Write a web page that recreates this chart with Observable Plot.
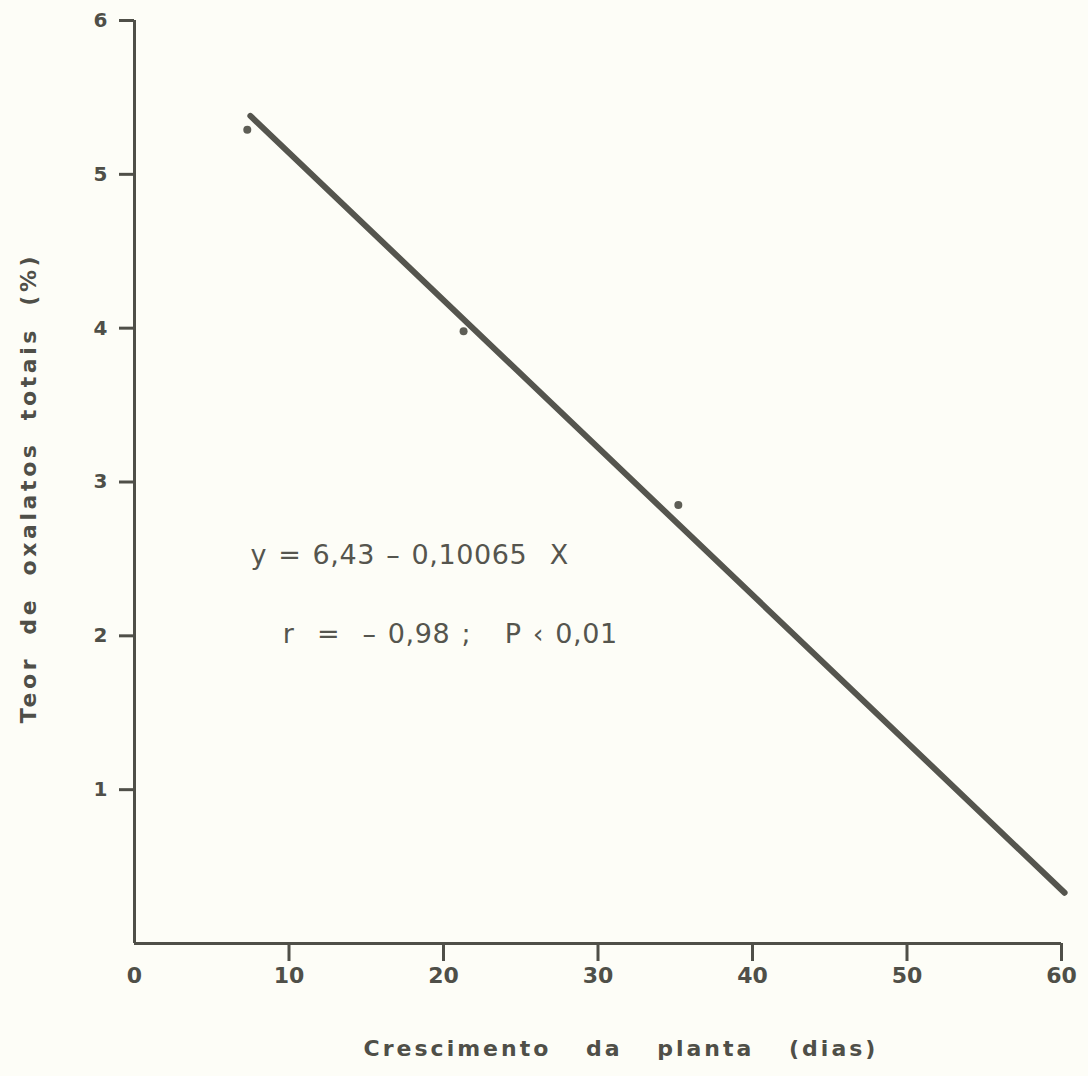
<!DOCTYPE html>
<html>
<head>
<meta charset="utf-8">
<script src="https://cdn.jsdelivr.net/npm/d3@7"></script>
<script src="https://cdn.jsdelivr.net/npm/@observablehq/plot@0.6"></script>
<style>
  html, body { margin: 0; padding: 0; background: #fdfdf7; }
  #chart svg { background: #fdfdf7; }
</style>
</head>
<body>
<div id="chart"></div>
<script>
// Observed points (days, % total oxalates)
const pointDays = [7.3, 21.3, 35.2];
const pointValues = [5.29, 3.98, 2.85];

// Regression line as drawn (endpoints)
const lineDays = [7.5, 60.2];
const lineValues = [5.38, 0.33];

// Axis ticks
const xTickValues = [0, 10, 20, 30, 40, 50, 60];
const yTickValues = [1, 2, 3, 4, 5, 6];

// Annotation text and anchor (in data units)
const annotationTexts = ["y = 6,43 – 0,10065  X", "r  =  – 0,98 ;   P ‹ 0,01"];
const annotationDays = [7.5, 9.6];
const annotationValues = [2.52, 2.01];

const xTitle = "Crescimento da planta (dias)";
const yTitle = "Teor de oxalatos totais (%)";

const ink = "#4f4f48";

const points = pointDays.map((d, i) => ({x: d, y: pointValues[i]}));
const line = lineDays.map((d, i) => ({x: d, y: lineValues[i]}));
const notes = annotationTexts.map((t, i) => ({x: annotationDays[i], y: annotationValues[i], t}));

const chart = Plot.plot({
  width: 1088,
  height: 1076,
  marginLeft: 134,
  marginRight: 27,
  marginTop: 20,
  marginBottom: 133,
  style: {fontFamily: "'DejaVu Sans', sans-serif", fontSize: "20px", color: ink, background: "#fdfdf7"},
  x: {domain: [0, 60]},
  y: {domain: [0, 6]},
  marks: [
    Plot.ruleX([0], {y1: 0, y2: 6, stroke: ink, strokeWidth: 3}),
    Plot.ruleY([0], {x1: 0, x2: 60, stroke: ink, strokeWidth: 3}),
    Plot.ruleX(xTickValues.filter(d => d > 0), {x: d => d, y1: 0, y2: 0, insetBottom: -18, stroke: ink, strokeWidth: 3}),
    Plot.axisX(xTickValues, {tickSize: 0, tickPadding: 24, tickFormat: "d", fontWeight: "bold", fill: ink, label: null}),
    Plot.axisY(yTickValues, {tickSize: 15, strokeWidth: 3, stroke: ink, tickPadding: 12, tickFormat: "d", fontWeight: "bold", fill: ink, label: null}),
    Plot.line(line, {x: "x", y: "y", stroke: "#55554e", strokeWidth: 6, strokeLinecap: "round"}),
    Plot.dot(points, {x: "x", y: "y", r: 4, fill: "#5e5e56", stroke: "none"}),
    Plot.text(notes, {x: "x", y: "y", text: "t", textAnchor: "start", fontSize: 27, fill: "#55554e"}),
    Plot.text([xTitle], {frameAnchor: "bottom", dx: 23, dy: 112, fontSize: 22, fontWeight: "bold", fill: ink}),
    Plot.text([yTitle], {frameAnchor: "left", textAnchor: "middle", dx: -106, dy: 6, rotate: -90, fontSize: 22, fontWeight: "bold", fill: ink})
  ]
});

d3.select(chart).selectAll("g[aria-label='x-axis tick label'] text").style("font-size", "22px");
d3.select(chart).selectAll("g[aria-label='y-axis tick label'] text").style("font-size", "20px");
d3.select(chart).selectAll("text").each(function() {
  const s = this.textContent;
  if (s === xTitle) d3.select(this).attr("letter-spacing", 3).attr("word-spacing", 24);
  if (s === yTitle) d3.select(this).attr("letter-spacing", 3.6).attr("word-spacing", 10);
  if (annotationTexts.includes(s)) d3.select(this).attr("letter-spacing", 0.6).attr("word-spacing", 2);
});

document.getElementById("chart").appendChild(chart);
</script>
</body>
</html>
